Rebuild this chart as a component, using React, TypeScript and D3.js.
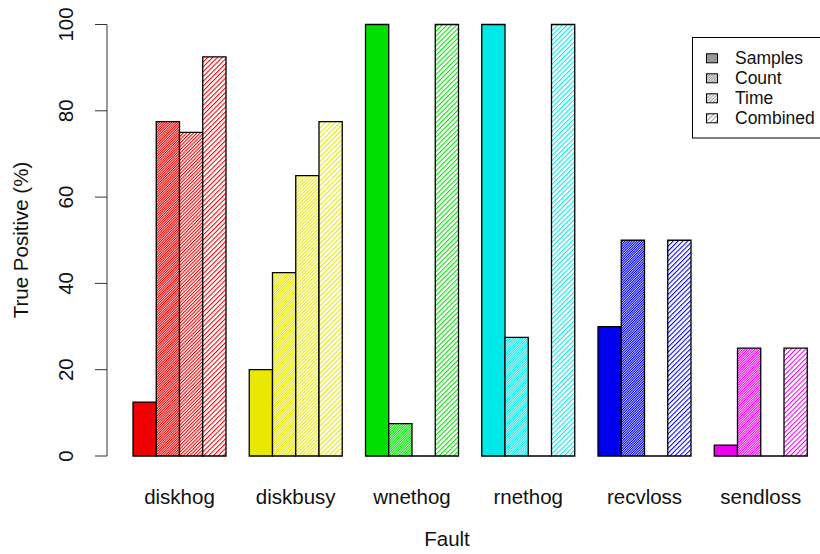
import React from "react";
import * as d3 from "d3";

const faults = ["diskhog", "diskbusy", "wnethog", "rnethog", "recvloss", "sendloss"];
const methods = ["Samples", "Count", "Time", "Combined"];
const samples = [12.5, 20, 100, 100, 30, 2.5];
const count = [77.5, 42.5, 7.5, 27.5, 50, 25];
const time = [75, 65, 0, 0, 0, 0];
const combined = [92.5, 77.5, 100, 100, 50, 25];
const faultColors = ["#EE0000", "#E8E800", "#00E000", "#00E8E8", "#0000EE", "#EE00EE"];
const yTicks = [0, 20, 40, 60, 80, 100];

const series = [samples, count, time, combined];
// perpendicular hatch spacing per method (0 = solid)
const hatchSpacing = [0, 1.7, 2.4, 3.4];

const W = 820;
const H = 554;
const FONT = "Liberation Sans, Arial, Helvetica, sans-serif";
const FS = 20.5;
const LFS = 17.5;

export default function App() {
  const y = d3.scaleLinear().domain([0, 100]).range([456, 24.5]);
  const x = d3.scaleLinear().domain([0, 30]).range([109.75, 807.25]);
  const bw = x(1) - x(0);

  const pid = (c: number, m: number) => `hatch-${c}-${m}`;
  const legendGray = "#999999";

  const patterns: JSX.Element[] = [];
  faultColors.forEach((col, ci) => {
    hatchSpacing.forEach((s, mi) => {
      if (s > 0) {
        patterns.push(
          <pattern
            key={pid(ci, mi)}
            id={pid(ci, mi)}
            patternUnits="userSpaceOnUse"
            width={s}
            height={10}
            patternTransform="rotate(45)"
          >
            <rect x={0} y={0} width={s} height={10} fill="white" />
            <rect x={0} y={0} width={1.05} height={10} fill={col} />
          </pattern>
        );
      }
    });
  });
  hatchSpacing.forEach((s, mi) => {
    if (s > 0) {
      patterns.push(
        <pattern
          key={`lg-${mi}`}
          id={`lg-${mi}`}
          patternUnits="userSpaceOnUse"
          width={s}
          height={10}
          patternTransform="rotate(45)"
        >
          <rect x={0} y={0} width={s} height={10} fill="white" />
          <rect x={0} y={0} width={1.05} height={10} fill={legendGray} />
        </pattern>
      );
    }
  });

  const bars: JSX.Element[] = [];
  faults.forEach((f, gi) => {
    series.forEach((vals, mi) => {
      const u = 1 + gi * 5 + mi;
      const x0 = x(u);
      const y0 = y(vals[gi]);
      const h = y(0) - y0;
      const fill = hatchSpacing[mi] === 0 ? faultColors[gi] : `url(#${pid(gi, mi)})`;
      const d = `M${x0},${y(0)}V${y0}H${x0 + bw}V${y(0)}Z`;
      bars.push(
        <path
          key={`${f}-${mi}`}
          d={d}
          fill={h > 0 ? fill : "none"}
          stroke="black"
          strokeWidth={1.3}
        />
      );
    });
  });

  return (
    <svg width={W} height={H} style={{ position: "absolute", left: 0, top: 0 }} fontFamily={FONT}>
      <defs>{patterns}</defs>
      <rect width={W} height={H} fill="white" />
      {bars}
      {/* y axis */}
      <line x1={107} x2={107} y1={y(0)} y2={y(100)} stroke="#333" strokeWidth={1} />
      {yTicks.map((t) => (
        <g key={t}>
          <line x1={95} x2={107} y1={y(t)} y2={y(t)} stroke="#333" strokeWidth={1} />
          <text
            transform={`translate(73,${y(t)}) rotate(-90)`}
            textAnchor="middle"
            fontSize={FS}
            fill="#111"
          >
            {t}
          </text>
        </g>
      ))}
      {faults.map((f, gi) => (
        <text key={f} x={x(3 + gi * 5)} y={503.5} textAnchor="middle" fontSize={FS} fill="#111">
          {f}
        </text>
      ))}
      <text x={447} y={545.5} textAnchor="middle" fontSize={FS} fill="#111">
        Fault
      </text>
      <text transform={`translate(27.5,240) rotate(-90)`} textAnchor="middle" fontSize={FS} fill="#111">
        True Positive (%)
      </text>
      {/* legend */}
      <rect x={692.5} y={37.5} width={140} height={100.5} fill="white" stroke="black" strokeWidth={1} />
      {methods.map((m, mi) => {
        const cy = 58.3 + mi * 20;
        return (
          <g key={m}>
            <rect
              x={706.5}
              y={cy - 4.5}
              width={11}
              height={9}
              fill={hatchSpacing[mi] === 0 ? legendGray : `url(#lg-${mi})`}
              stroke="black"
              strokeWidth={1}
            />
            <text x={735} y={cy + 6} fontSize={LFS} fill="#111">
              {m}
            </text>
          </g>
        );
      })}
    </svg>
  );
}
